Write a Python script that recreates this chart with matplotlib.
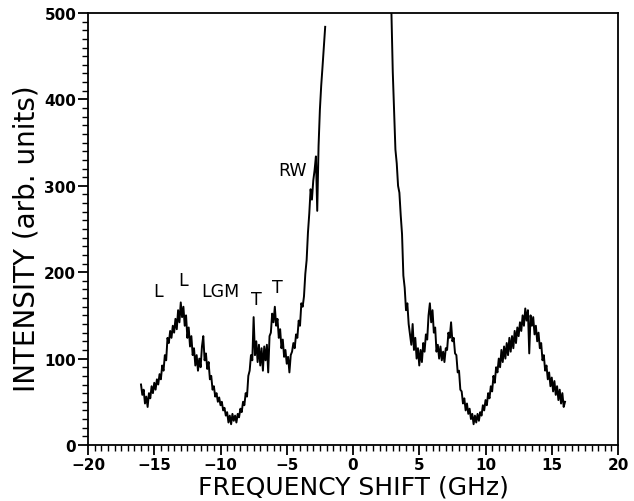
import numpy as np
import matplotlib
matplotlib.use("Agg")
import matplotlib.pyplot as plt
from matplotlib.ticker import MultipleLocator

# Anti-Stokes wing, sampled every 0.1 GHz starting at -16.0 GHz
left_start, step = -16.0, 0.1
left_int = [70, 58, 64, 48, 56, 44, 60, 54, 68, 60,
            72, 64, 76, 70, 82, 76, 92, 86, 104, 98,
            124, 118, 132, 124, 138, 130, 146, 134, 156, 142,
            165, 148, 160, 138, 150, 124, 136, 114, 126, 104,
            112, 92, 104, 86, 100, 90, 114, 126, 98, 106,
            88, 96, 76, 80, 64, 68, 56, 60, 50, 55,
            46, 50, 40, 43, 34, 38, 26, 34, 24, 36,
            28, 34, 26, 36, 32, 42, 38, 50, 46, 60,
            56, 80, 86, 104, 98, 148, 104, 120, 96, 116,
            92, 112, 86, 114, 98, 116, 84, 126, 130, 152,
            142, 160, 138, 146, 124, 134, 112, 122, 102, 110,
            94, 102, 84, 104, 108, 118, 112, 128, 124, 144,
            138, 164, 160, 172, 198, 214, 246, 268, 296, 284,
            306, 318, 334, 271, 346, 388, 416, 438, 462, 484]

# Stokes wing, sampled every 0.1 GHz starting at 2.9 GHz
right_start = 2.9
right_int = [500, 432, 388, 342, 326, 300, 292, 266, 244, 196,
             182, 156, 164, 140, 128, 116, 140, 110, 124, 100,
             112, 92, 110, 96, 118, 108, 128, 122, 150, 164,
             142, 156, 130, 136, 108, 116, 100, 114, 98, 108,
             96, 112, 110, 130, 124, 142, 120, 124, 106, 104,
             84, 86, 64, 62, 48, 54, 40, 48, 36, 42,
             30, 36, 24, 34, 26, 36, 28, 38, 34, 46,
             40, 52, 46, 60, 54, 68, 62, 80, 72, 90,
             84, 100, 90, 110, 96, 114, 100, 118, 104, 124,
             108, 126, 112, 132, 118, 136, 126, 142, 132, 150,
             138, 158, 144, 156, 106, 150, 138, 148, 128, 138,
             120, 130, 112, 118, 98, 104, 86, 92, 76, 84,
             68, 78, 62, 74, 58, 68, 52, 64, 48, 60,
             44, 50]

labels = ["L", "L", "LGM", "T", "T", "RW"]
label_x = [-14.7, -12.8, -10.0, -7.3, -5.7, -4.6]
label_y = [168, 180, 168, 158, 172, 308]

left_x = left_start + step * np.arange(len(left_int))
right_x = right_start + step * np.arange(len(right_int))

plt.rcParams["font.family"] = ["DejaVu Sans"]

fig = plt.figure(figsize=(6.34, 5.02), dpi=100)
ax = fig.add_axes([0.1388, 0.1116, 0.836, 0.8605])

ax.plot(left_x, left_int, color="black", lw=1.4)
ax.plot(right_x, right_int, color="black", lw=1.4)

for t, x, y in zip(labels, label_x, label_y):
    ax.text(x, y, t, ha="center", va="bottom", fontsize=12.5)

ax.set_xlim(-20, 20)
ax.set_ylim(0, 500)
ax.xaxis.set_major_locator(MultipleLocator(5))
ax.xaxis.set_minor_locator(MultipleLocator(0.5))
ax.yaxis.set_major_locator(MultipleLocator(100))
ax.yaxis.set_minor_locator(MultipleLocator(10))
ax.tick_params(which="major", direction="out", length=7, width=1.3,
               labelsize=11, pad=1.5, top=False, right=False)
ax.tick_params(which="minor", direction="out", length=4, width=1,
               top=False, right=False)
for lab in ax.get_xticklabels() + ax.get_yticklabels():
    lab.set_fontweight("bold")
for s in ax.spines.values():
    s.set_linewidth(1.3)

ax.set_xlabel("FREQUENCY SHIFT (GHz)", fontsize=18, labelpad=2)
ax.set_ylabel("INTENSITY (arb. units)", fontsize=20)
ax.yaxis.set_label_coords(-0.09, 0.48)

fig.savefig("out.png", dpi=100)
